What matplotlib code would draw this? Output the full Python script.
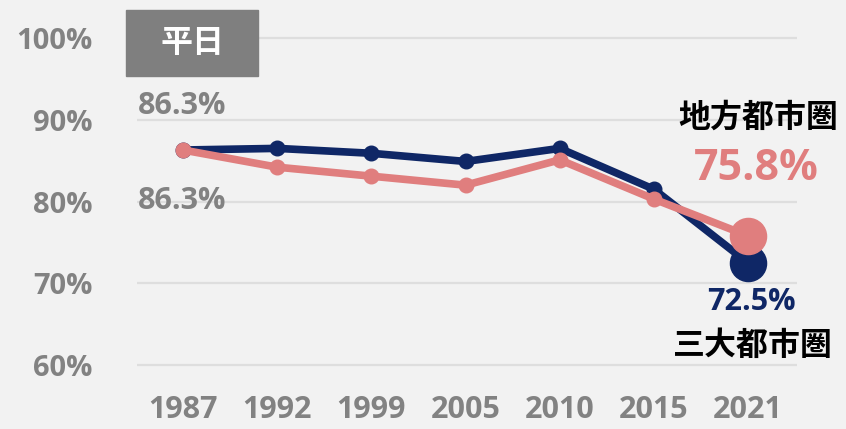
import matplotlib
matplotlib.use("Agg")
import matplotlib.pyplot as plt
from matplotlib.patches import Rectangle

years = ["1987", "1992", "1999", "2005", "2010", "2015", "2021"]
sandai = [86.3, 86.5, 85.9, 84.9, 86.5, 81.5, 72.5]    # 三大都市圏
chiho = [86.3, 84.2, 83.1, 82.0, 85.1, 80.3, 75.8]     # 地方都市圏
yticks = [60, 70, 80, 90, 100]

navy = "#0f2766"
pink = "#e07e7e"
gray = "#828282"
bg = "#f2f2f2"

plt.rcParams['font.family'] = ['Open Sans', 'DejaVu Sans']
jp = ['Noto Sans CJK JP', 'DejaVu Sans']

fig = plt.figure(figsize=(8.46, 4.29), dpi=100, facecolor=bg)
ax = fig.add_axes([137 / 846, 0.111, 660 / 846, 0.8385], facecolor=bg)

x = list(range(len(years)))
ax.plot(x, sandai, color=navy, lw=5.5, marker='o', ms=10.5, zorder=3)
ax.plot(x[-1], sandai[-1], 'o', color=navy, ms=26, zorder=3)
ax.plot(x, chiho, color=pink, lw=5.5, marker='o', ms=10.5, zorder=4)
ax.plot(x[-1], chiho[-1], 'o', color=pink, ms=26, zorder=4)

ax.set_xlim(-0.49, 6.52)
ax.set_ylim(58, 102)
ax.set_yticks(yticks)
ax.set_yticklabels([f"{v}%" for v in yticks])
ax.set_xticks(x)
ax.set_xticklabels(years)
for v in yticks:
    ax.axhline(v, color="#dedede", lw=1.6, zorder=1)
for s in ax.spines.values():
    s.set_visible(False)
ax.tick_params(length=0, labelcolor=gray)
ax.tick_params(axis='y', pad=32, labelsize=21)
ax.tick_params(axis='x', pad=10, labelsize=22)
for t in ax.get_xticklabels() + ax.get_yticklabels():
    t.set_fontweight('bold')

# value labels
ax.text(-0.478, 91.7, f"{chiho[0]}%", color=gray, fontsize=22, fontweight='bold',
        ha='left', va='center')
ax.text(-0.478, 80.1, f"{sandai[0]}%", color=gray, fontsize=22, fontweight='bold',
        ha='left', va='center')
ax.text(6.09, 84.0, f"{chiho[-1]}%", color=pink, fontsize=31, fontweight='bold',
        ha='center', va='center')
ax.text(6.04, 67.7, f"{sandai[-1]}%", color=navy, fontsize=22, fontweight='bold',
        ha='center', va='center')
ax.text(6.11, 90.2, "地方都市圏", color='black', fontsize=23, fontweight='bold',
        ha='center', va='center', family=jp)
ax.text(6.05, 62.3, "三大都市圏", color='black', fontsize=23, fontweight='bold',
        ha='center', va='center', family=jp)

# 平日 box
fig.patches.append(Rectangle((126 / 846, 1 - 76 / 429), 132 / 846, 66 / 429,
                             transform=fig.transFigure, color="#7f7f7f", zorder=0))
fig.text(192 / 846, 1 - 43 / 429, "平日", color='white', fontsize=23, fontweight='bold',
         ha='center', va='center', family=jp)

fig.savefig("out.png", dpi=100, facecolor=bg)
